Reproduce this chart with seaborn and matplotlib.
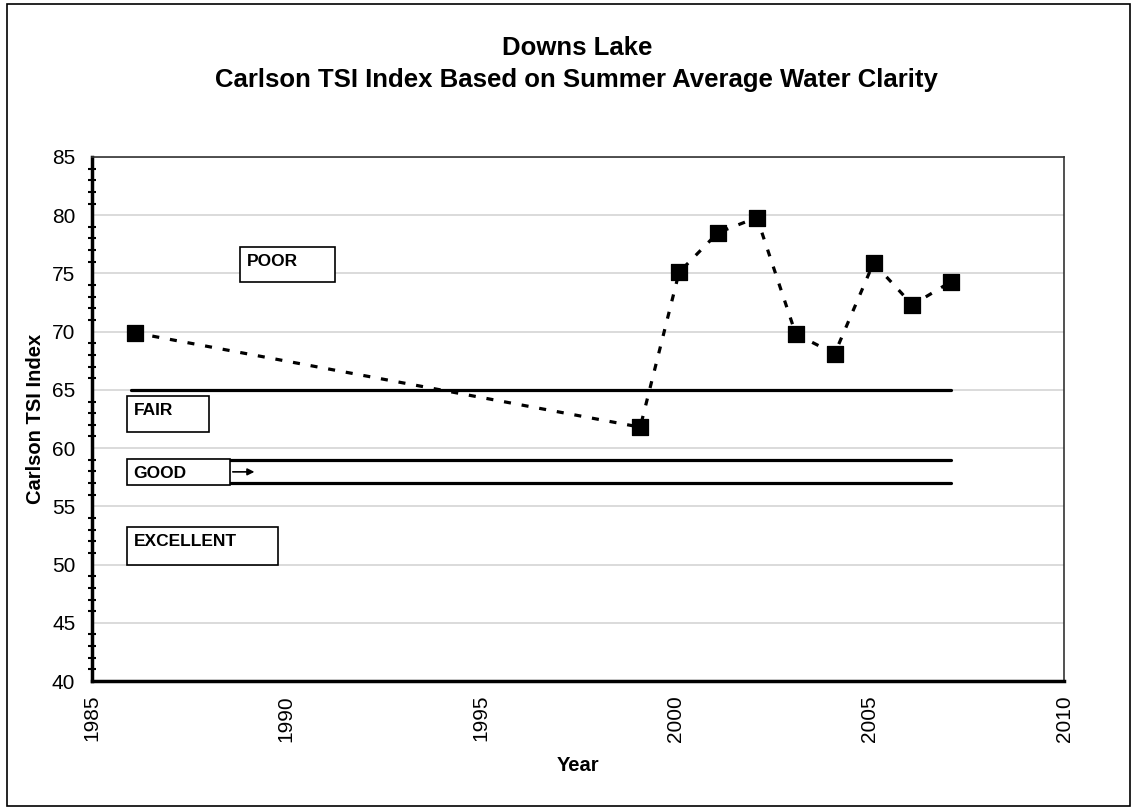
import numpy as np
import pandas as pd
import matplotlib
matplotlib.use("Agg")
import matplotlib.pyplot as plt
from matplotlib.patches import Rectangle
from matplotlib.ticker import MultipleLocator
import seaborn as sns

# sampling dates (fractional year) and summer average TSI
years = [1986.1, 1999.1, 2000.1, 2001.1, 2002.1, 2003.1, 2004.1, 2005.1, 2006.1, 2007.1]
tsi = [69.9, 61.8, 75.1, 78.5, 79.8, 69.8, 68.1, 75.9, 72.3, 74.3]

# category boundaries drawn across the sampling period
bound_start = 1986.0
bound_end = 2007.1
boundaries = [65, 59, 57]

labels = ["POOR", "FAIR", "GOOD", "EXCELLENT"]

sns.set_style("white")
plt.rcParams["font.family"] = ["Liberation Sans", "DejaVu Sans"]
plt.rcParams["text.color"] = "black"
plt.rcParams["axes.labelcolor"] = "black"
plt.rcParams["xtick.color"] = "black"
plt.rcParams["ytick.color"] = "black"

fig = plt.figure(figsize=(11.31, 8.07), dpi=100)
ax = fig.add_axes([0.0813, 0.1561, 0.8595, 0.6494])

df = pd.DataFrame({"Year": years, "TSI": tsi})

for b in boundaries:
    bd = pd.DataFrame({"Year": [bound_start, bound_end], "TSI": [b, b]})
    sns.lineplot(data=bd, x="Year", y="TSI", ax=ax, color="black", lw=2.3,
                 zorder=2, solid_capstyle="round")

sns.lineplot(data=df, x="Year", y="TSI", ax=ax, color="black", lw=2.3,
             dashes=False, linestyle=(0, (2.2, 3.4)), zorder=3)
sns.scatterplot(data=df, x="Year", y="TSI", ax=ax, marker="s", s=130,
                color="black", edgecolor="black", zorder=4)

# category label boxes (x0, x1, y0, y1)
boxes = {
    "POOR": (1988.81, 1991.25, 74.28, 77.28),
    "FAIR": (1985.9, 1988.0, 61.39, 64.48),
    "GOOD": (1985.9, 1988.55, 56.84, 59.07),
    "EXCELLENT": (1985.9, 1989.78, 49.97, 53.23),
}
for name in labels:
    x0, x1, y0, y1 = boxes[name]
    ax.add_patch(Rectangle((x0, y0), x1 - x0, y1 - y0, facecolor="white",
                           edgecolor="black", lw=1.2, zorder=5))
    ax.text(x0 + 0.17, y1 - 0.6, name, ha="left", va="top", fontsize=12.5,
            fontweight="bold", zorder=6)

ax.annotate("", xy=(1989.25, 57.96), xytext=(1988.55, 57.96),
            arrowprops=dict(arrowstyle="-|>", color="black", lw=1.2,
                            mutation_scale=10), zorder=6)

ax.set_xlim(1985, 2010)
ax.set_ylim(40, 85)
ax.xaxis.set_major_locator(MultipleLocator(5))
ax.yaxis.set_major_locator(MultipleLocator(5))
ax.yaxis.set_minor_locator(MultipleLocator(1))
ax.grid(axis="y", which="major", color="#d4d4d4", lw=1.2, zorder=0)
ax.set_axisbelow(True)

ax.tick_params(axis="x", which="major", direction="inout", length=12, width=2,
               labelsize=15, rotation=90, pad=4)
ax.tick_params(axis="y", which="major", direction="out", length=9, width=2,
               labelsize=15, pad=3)
ax.tick_params(axis="y", which="minor", direction="inout", length=6, width=1.5,
               left=True)

for side in ["left", "bottom"]:
    ax.spines[side].set_linewidth(2.5)
    ax.spines[side].set_color("black")
for side in ["top", "right"]:
    ax.spines[side].set_linewidth(1.2)
    ax.spines[side].set_color("#333333")

ax.set_xlabel("Year", fontsize=14.5, fontweight="bold", labelpad=10)
ax.set_ylabel("Carlson TSI Index", fontsize=14.5, fontweight="bold", labelpad=5)

fig.text(0.51, 0.9405, "Downs Lake", ha="center", va="center", fontsize=18.5,
         fontweight="bold")
fig.text(0.51, 0.901, "Carlson TSI Index Based on Summer Average Water Clarity",
         ha="center", va="center", fontsize=18.5, fontweight="bold")

fig.patches.append(Rectangle((0.0062, 0.0012), 0.9925, 0.9938, transform=fig.transFigure,
                             fill=False, edgecolor="black", lw=1.2))

fig.savefig("out.png", dpi=100)
